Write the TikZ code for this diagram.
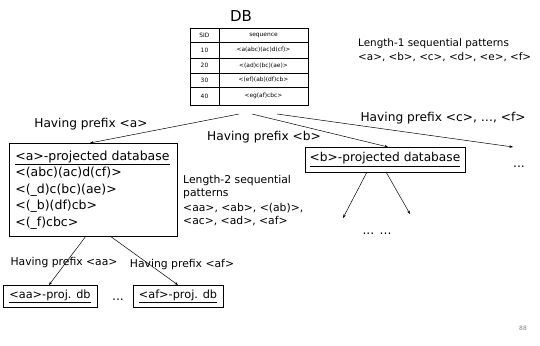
\documentclass[tikz,border=0pt]{standalone}
\usepackage{fontspec}
\setmainfont{DejaVu Sans}
\usetikzlibrary{arrows.meta}

\begin{document}
\begin{tikzpicture}[x=1pt,y=-1pt,
  txt/.style={font=\fontsize{12.4}{16.5}\selectfont, inner sep=0pt},
  prefixtxt/.style={font=\fontsize{12.2}{15}\selectfont, inner sep=0pt},
  smalltxt/.style={font=\fontsize{10.8}{13}\selectfont, inner sep=0pt},
  tiny/.style={font=\fontsize{5.9}{7}\selectfont, inner sep=0pt},
  projbox/.style={draw, line width=0.6pt, inner sep=0pt},
  arr/.style={-{Stealth[length=3.5pt,width=2.6pt]}, line width=0.5pt}]
\useasboundingbox (0,0) rectangle (540,345);

% database table
\node[font=\fontsize{15}{18}\selectfont, inner sep=0pt] (dbtitle) at (241,16) {DB};
\draw[line width=0.4pt] (219,28) -- (219,105);
\foreach \yy in {42,58,73,87} \draw[line width=0.4pt] (190,\yy) -- (308,\yy);
\draw[line width=0.9pt] (190,28) rectangle (308,105);
\node[tiny] (h1) at (204.5,35) {SID};
\node[tiny] (h2) at (263.5,35) {sequence};
\node[tiny] (r1a) at (204.5,50) {10};
\node[tiny] (r1b) at (263.5,50) {<a(abc)(ac)d(cf)>};
\node[tiny] (r2a) at (204.5,65.5) {20};
\node[tiny] (r2b) at (263.5,65.5) {<(ad)c(bc)(ae)>};
\node[tiny] (r3a) at (204.5,80) {30};
\node[tiny] (r3b) at (263.5,80) {<(ef)(ab)(df)cb>};
\node[tiny] (r4a) at (204.5,96) {40};
\node[tiny] (r4b) at (263.5,96) {<eg(af)cbc>};

% length-1 patterns
\node[font=\fontsize{10.4}{14}\selectfont, inner sep=0pt, anchor=west, align=left] (len1) at (358,50)
  {Length-1 sequential patterns\\<a>, <b>, <c>, <d>, <e>, <f>};

% branch start points under the table
\coordinate (sa) at (239,114);
\coordinate (sb) at (252,114);
\coordinate (sc) at (277,114);

% first-level projected databases
\node[projbox, minimum width=168pt, minimum height=93pt,
      text width=156pt, align=left, anchor=north west,
      font=\fontsize{12.5}{16.5}\selectfont] (adb) at (9,143)
  {\underline{<a>-projected database}\\<(abc)(ac)d(cf)>\\<(\_d)c(bc)(ae)>\\<(\_b)(df)cb>\\<(\_f)cbc>};
\node[projbox, minimum width=160pt, minimum height=25pt, prefixtxt] (bdb) at (385,159.5)
  {\underline{<b>-projected database}};
\node[txt] (cdots) at (519,167) {...};

\coordinate (ta) at (90,143);
\coordinate (tb) at (388,147);
\coordinate (tc) at (513,147);
\draw[arr] (sa) -- (ta);
\draw[arr] (sb) -- (tb);
\draw[arr] (sc) -- (tc);

\node[prefixtxt] (pa) at (91,124) {Having prefix <a>};
\node[prefixtxt] (pb) at (264,137) {Having prefix <b>};
\node[prefixtxt] (pc) at (443,118) {Having prefix <c>, \dots, <f>};

% length-2 patterns
\node[smalltxt, anchor=north west, align=left] (len2) at (183,175)
  {Length-2 sequential\\patterns\\[2.5pt]<aa>, <ab>, <(ab)>,\\<ac>, <ad>, <af>};

% branches below <b>
\coordinate (b1s) at (367,172);
\coordinate (b1e) at (343,218);
\coordinate (b2s) at (386,172);
\coordinate (b2e) at (410,214);
\draw[arr] (b1s) -- (b1e);
\draw[arr] (b2s) -- (b2e);
\node[txt] (bdots) at (377,234) {... ...};

% second-level projected databases
\node[projbox, minimum width=94pt, minimum height=22pt,
      font=\fontsize{11.3}{13}\selectfont] (aadb) at (50,296) {\underline{<aa>-proj. db}};
\node[projbox, minimum width=90pt, minimum height=22pt,
      font=\fontsize{11.3}{13}\selectfont] (afdb) at (178,296) {\underline{<af>-proj. db}};
\node[txt] (adots) at (118,300) {...};

\coordinate (a1s) at (86,236);
\coordinate (a1e) at (49,285);
\coordinate (a2s) at (110,236);
\coordinate (a2e) at (178,285);
\draw[arr] (a1s) -- (a1e);
\draw[arr] (a2s) -- (a2e);

\node[smalltxt] (paa) at (64,263) {Having prefix <aa>};
\node[smalltxt] (paf) at (182,265) {Having prefix <af>};

% page number
\node[font=\fontsize{6}{7}\selectfont, text=gray, inner sep=0pt] (pgnum) at (523,328) {88};
\end{tikzpicture}
\end{document}
